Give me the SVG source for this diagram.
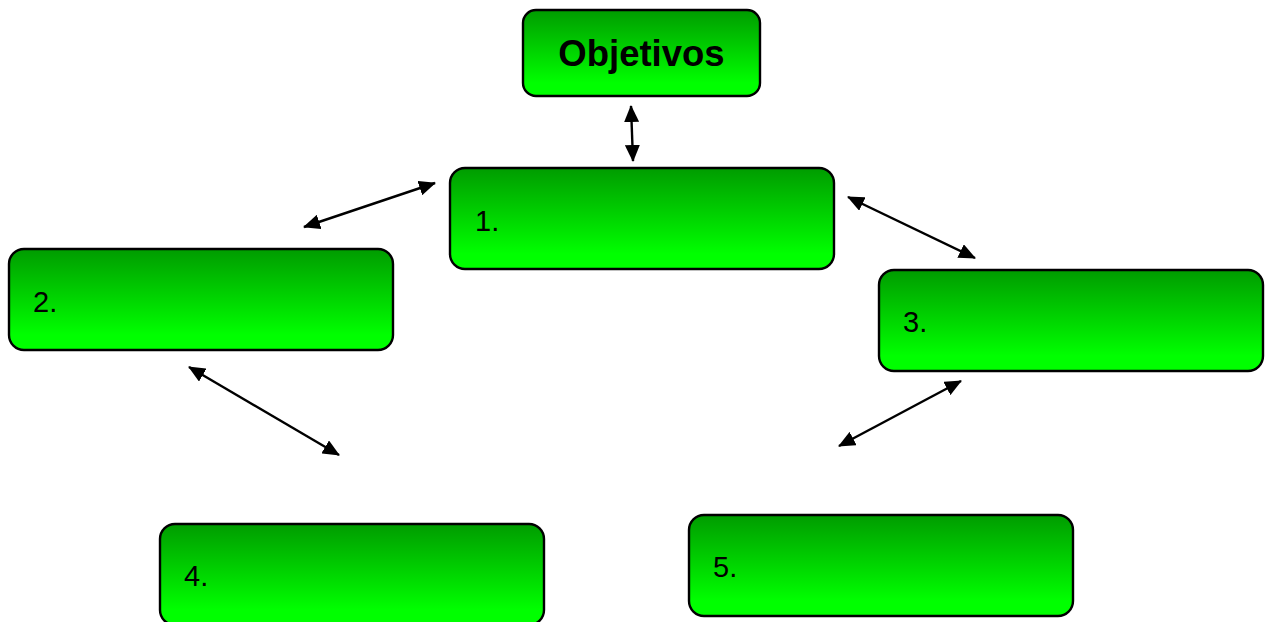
<svg xmlns="http://www.w3.org/2000/svg" width="1271" height="622" viewBox="0 0 1271 622">
<style>
.box{fill:url(#g);stroke:#000;stroke-width:2.4}
.num{font-family:"Liberation Sans",Arial,sans-serif;font-size:29px;fill:#000}
.title{font-family:"Liberation Sans",Arial,sans-serif;font-size:36.5px;font-weight:bold;fill:#000}
.conn{stroke:#000;stroke-width:2.4;fill:none;marker-start:url(#ah);marker-end:url(#ah)}
</style>
<defs>
<linearGradient id="g" x1="0" y1="0" x2="0" y2="1">
<stop offset="0" stop-color="#009c00"/>
<stop offset="0.85" stop-color="#00ff00"/>
<stop offset="1" stop-color="#00ff00"/>
</linearGradient>
<marker id="ah" markerUnits="userSpaceOnUse" viewBox="0 0 17 15" markerWidth="17" markerHeight="15" refX="16" refY="7.5" orient="auto-start-reverse">
<path d="M0,0 L17,7.5 L0,15 z" fill="#000"/>
</marker>
</defs>
<rect width="1271" height="622" fill="#fff"/>
<g id="connectors">
<line class="conn" x1="631" y1="106" x2="633" y2="161"/>
<line class="conn" x1="435" y1="183" x2="304" y2="227"/>
<line class="conn" x1="848" y1="197" x2="975" y2="258"/>
<line class="conn" x1="189" y1="367" x2="339" y2="455"/>
<line class="conn" x1="961" y1="381" x2="839" y2="446"/>
</g>
<g id="objetivos">
<rect class="box" x="523" y="10" width="237" height="86" rx="13"/>
<text class="title" x="641.5" y="66" text-anchor="middle">Objetivos</text>
</g>
<g id="node1">
<rect class="box" x="450" y="168" width="384" height="101" rx="15"/>
<text class="num" x="475" y="231">1.</text>
</g>
<g id="node2">
<rect class="box" x="9" y="249" width="384" height="101" rx="15"/>
<text class="num" x="33" y="312">2.</text>
</g>
<g id="node3">
<rect class="box" x="879" y="270" width="384" height="101" rx="15"/>
<text class="num" x="903" y="332">3.</text>
</g>
<g id="node4">
<rect class="box" x="160" y="524" width="384" height="101" rx="15"/>
<text class="num" x="184" y="586">4.</text>
</g>
<g id="node5">
<rect class="box" x="689" y="515" width="384" height="101" rx="15"/>
<text class="num" x="713" y="577">5.</text>
</g>
</svg>
